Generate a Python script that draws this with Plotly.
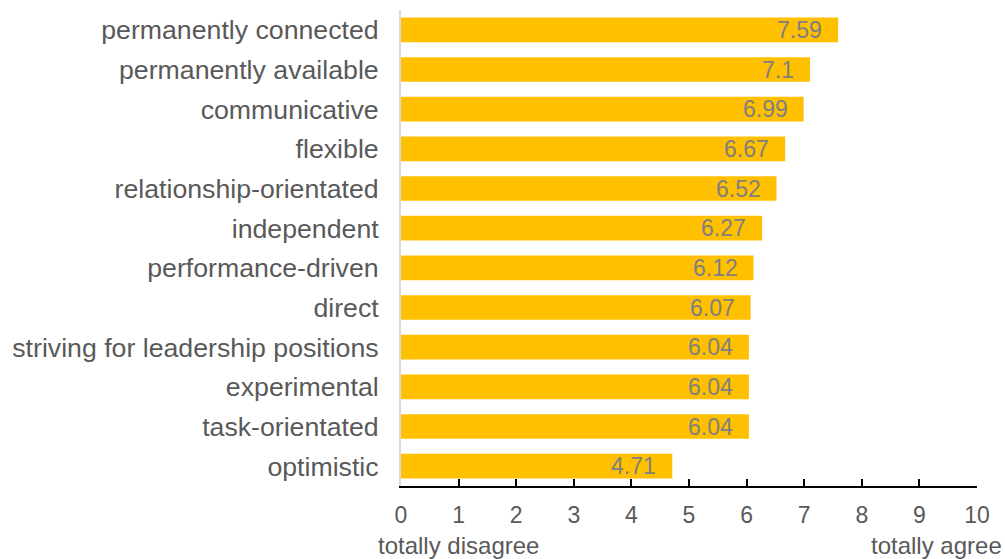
import plotly.graph_objects as go

# Mean agreement scores (0 = totally disagree, 10 = totally agree)
traits = [
    "permanently connected",
    "permanently available",
    "communicative",
    "flexible",
    "relationship-orientated",
    "independent",
    "performance-driven",
    "direct",
    "striving for leadership positions",
    "experimental",
    "task-orientated",
    "optimistic",
]
scores = [7.59, 7.1, 6.99, 6.67, 6.52, 6.27, 6.12, 6.07, 6.04, 6.04, 6.04, 4.71]
x_ticks = list(range(0, 11))

FONT = "Arial, Liberation Sans, sans-serif"
BAR = "#FFC000"
LABEL = "#595959"
VALUE = "#7F7F7F"

fig = go.Figure(
    go.Bar(
        x=scores,
        y=traits,
        orientation="h",
        marker=dict(color=BAR, line=dict(width=0)),
        hoverinfo="x+y",
    )
)

# value labels sitting just inside the end of each bar
annotations = [
    dict(
        x=v, y=t, xref="x", yref="y",
        text=f"{v:g}", showarrow=False,
        xanchor="right", yanchor="middle", xshift=-14,
        font=dict(family=FONT, size=23, color=VALUE),
    )
    for t, v in zip(traits, scores)
]

# scale end descriptions under the axis
annotations += [
    dict(x=0, y=0, xref="x", yref="paper", text="totally disagree",
         showarrow=False, xanchor="left", yanchor="middle",
         xshift=-25, yshift=-59,
         font=dict(family=FONT, size=24, color=LABEL)),
    dict(x=10, y=0, xref="x", yref="paper", text="totally agree",
         showarrow=False, xanchor="right", yanchor="middle",
         xshift=27, yshift=-59,
         font=dict(family=FONT, size=24, color=LABEL)),
]

fig.update_layout(
    width=1005,
    height=559,
    margin=dict(l=401, r=28, t=10, b=73),
    paper_bgcolor="white",
    plot_bgcolor="white",
    bargap=0.38,
    showlegend=False,
    annotations=annotations,
    xaxis=dict(
        range=[0, 10],
        tickvals=x_ticks,
        ticktext=[str(t) for t in x_ticks],
        showgrid=False,
        zeroline=False,
        showline=True,
        linecolor="black",
        linewidth=2,
        ticks="inside",
        ticklen=7,
        tickwidth=2,
        tickcolor="black",
        ticklabelstandoff=7,
        tickfont=dict(family=FONT, size=23, color=LABEL),
        fixedrange=True,
    ),
    yaxis=dict(
        autorange="reversed",
        showgrid=False,
        zeroline=False,
        showline=True,
        linecolor="#D9D9D9",
        linewidth=2,
        ticks="",
        ticklabelstandoff=15,
        tickfont=dict(family=FONT, size=26.7, color=LABEL),
        fixedrange=True,
    ),
)

fig.write_html("out.html")
